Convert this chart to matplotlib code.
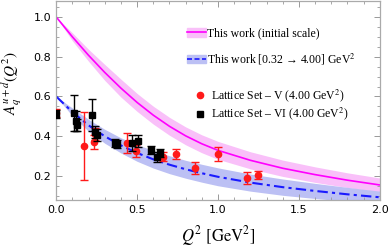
import numpy as np
import matplotlib.pyplot as plt
from matplotlib.lines import Line2D
from matplotlib.patches import Patch
from matplotlib.ticker import MultipleLocator

plt.rcParams['mathtext.fontset'] = 'stix'

# model curves
q2 = [0.0, 0.1, 0.2, 0.3, 0.4, 0.5, 0.6, 0.7, 0.8, 0.9, 1.0, 1.2, 1.4, 1.6, 1.8, 2.0]
init_mid = [1.0, 0.90, 0.807, 0.721, 0.642, 0.570, 0.506, 0.450, 0.402, 0.362, 0.329,
            0.279, 0.239, 0.207, 0.179, 0.155]
init_lo = [1.0, 0.88, 0.777, 0.681, 0.597, 0.525, 0.461, 0.405, 0.357, 0.317, 0.284,
           0.236, 0.198, 0.168, 0.142, 0.12]
init_hi = [1.0, 0.92, 0.837, 0.761, 0.687, 0.615, 0.551, 0.495, 0.447, 0.407, 0.374,
           0.322, 0.280, 0.246, 0.216, 0.19]
evol_mid = [0.60, 0.522, 0.455, 0.40, 0.354, 0.316, 0.284, 0.257, 0.234, 0.214, 0.196,
            0.167, 0.144, 0.125, 0.108, 0.093]
evol_lo = [0.60, 0.502, 0.425, 0.365, 0.316, 0.274, 0.24, 0.212, 0.189, 0.169, 0.151,
           0.124, 0.103, 0.087, 0.073, 0.062]
evol_hi = [0.60, 0.542, 0.485, 0.435, 0.392, 0.358, 0.328, 0.302, 0.279, 0.259, 0.241,
           0.210, 0.185, 0.163, 0.143, 0.124]

# lattice set V
v_x = [0.0, 0.175, 0.235, 0.24, 0.44, 0.495, 0.66, 0.74, 0.86, 1.0, 1.18, 1.245]
v_y = [0.515, 0.35, 0.37, 0.41, 0.365, 0.325, 0.297, 0.31, 0.24, 0.31, 0.19, 0.205]
v_err = [0.02, 0.17, 0.035, 0.03, 0.05, 0.03, 0.022, 0.025, 0.03, 0.035, 0.03, 0.02]

# lattice set VI
vi_x = [0.0, 0.11, 0.125, 0.13, 0.22, 0.24, 0.25, 0.365, 0.375, 0.47, 0.505, 0.585, 0.62, 0.64]
vi_y = [0.51, 0.515, 0.475, 0.455, 0.505, 0.42, 0.405, 0.365, 0.36, 0.368, 0.377, 0.33, 0.295, 0.315]
vi_err = [0.02, 0.09, 0.05, 0.03, 0.08, 0.03, 0.03, 0.02, 0.02, 0.04, 0.03, 0.02, 0.025, 0.02]

fig = plt.figure(figsize=(3.9, 2.48), dpi=100)
ax = fig.add_axes([0.144, 0.194, 0.830, 0.802])

ax.fill_between(q2, init_lo, init_hi, color='#f9c0f9', lw=0)
ax.fill_between(q2, evol_lo, evol_hi, color='#bcc0f4', lw=0)
ax.plot(q2, init_mid, color='#ff00ff', lw=1.2)
ax.plot(q2, evol_mid, color='#1a1aff', lw=1.5, ls=(0, (5, 2, 1.5, 2)))

ax.errorbar(v_x, v_y, yerr=v_err, fmt='o', color='#ff1a1a', ms=4.5,
            elinewidth=1, capsize=3, capthick=1, zorder=4)
ax.errorbar(vi_x, vi_y, yerr=vi_err, fmt='s', color='black', ms=4.3,
            elinewidth=1, capsize=3, capthick=1, zorder=5)

ax.set_xlim(0, 2.0)
ax.set_ylim(0.08, 1.08)
ax.xaxis.set_major_locator(MultipleLocator(0.5))
ax.xaxis.set_minor_locator(MultipleLocator(0.1))
ax.yaxis.set_minor_locator(MultipleLocator(0.05))
ax.set_yticks([0.2, 0.4, 0.6, 0.8, 1.0])
ax.tick_params(which='both', direction='in', top=True, right=True, colors='#999999',
               labelcolor='black', labelsize=8)
ax.tick_params(which='major', length=4.5, width=0.7)
ax.tick_params(which='minor', length=2.5, width=0.6)
for s in ax.spines.values():
    s.set_color('#aaaaaa')
    s.set_linewidth(0.9)

ax.set_xlabel(r'$Q^2\ [\mathrm{GeV}^2]$', fontsize=12, labelpad=7)
ax.set_ylabel(r'$A_q^{u+d}(Q^2)$', fontsize=11)
ax.yaxis.set_label_coords(-0.098, 0.585)

serif = ['Liberation Serif', 'DejaVu Serif']
h1 = (Patch(color='#f9c0f9'), Line2D([], [], color='#ff00ff', lw=1.2))
h2 = (Patch(color='#bcc0f4'), Line2D([], [], color='#1a1aff', lw=1.2, ls=(0, (3, 1.5))))
leg1 = ax.legend([h1, h2],
                 ['This work (initial scale)', r'This work [0.32 → 4.00] GeV$^2$'],
                 loc='upper left', bbox_to_anchor=(0.39, 0.89), frameon=False,
                 prop={'family': serif, 'size': 8.5}, handlelength=1.6,
                 handletextpad=0.1, labelspacing=1.0, borderaxespad=0)
ax.add_artist(leg1)
h3 = Line2D([], [], marker='o', color='#ff1a1a', ls='none', ms=4.5)
h4 = Line2D([], [], marker='s', color='black', ls='none', ms=4.3)
ax.legend([h3, h4],
          [r'Lattice Set – V (4.00 GeV$^2$)', r'Lattice Set – VI (4.00 GeV$^2$)'],
          loc='upper left', bbox_to_anchor=(0.415, 0.59), frameon=False,
          prop={'family': serif, 'size': 8.5}, handlelength=0.8,
          handletextpad=0.5, labelspacing=0.15, borderaxespad=0)

fig.savefig('out.png', dpi=100)
